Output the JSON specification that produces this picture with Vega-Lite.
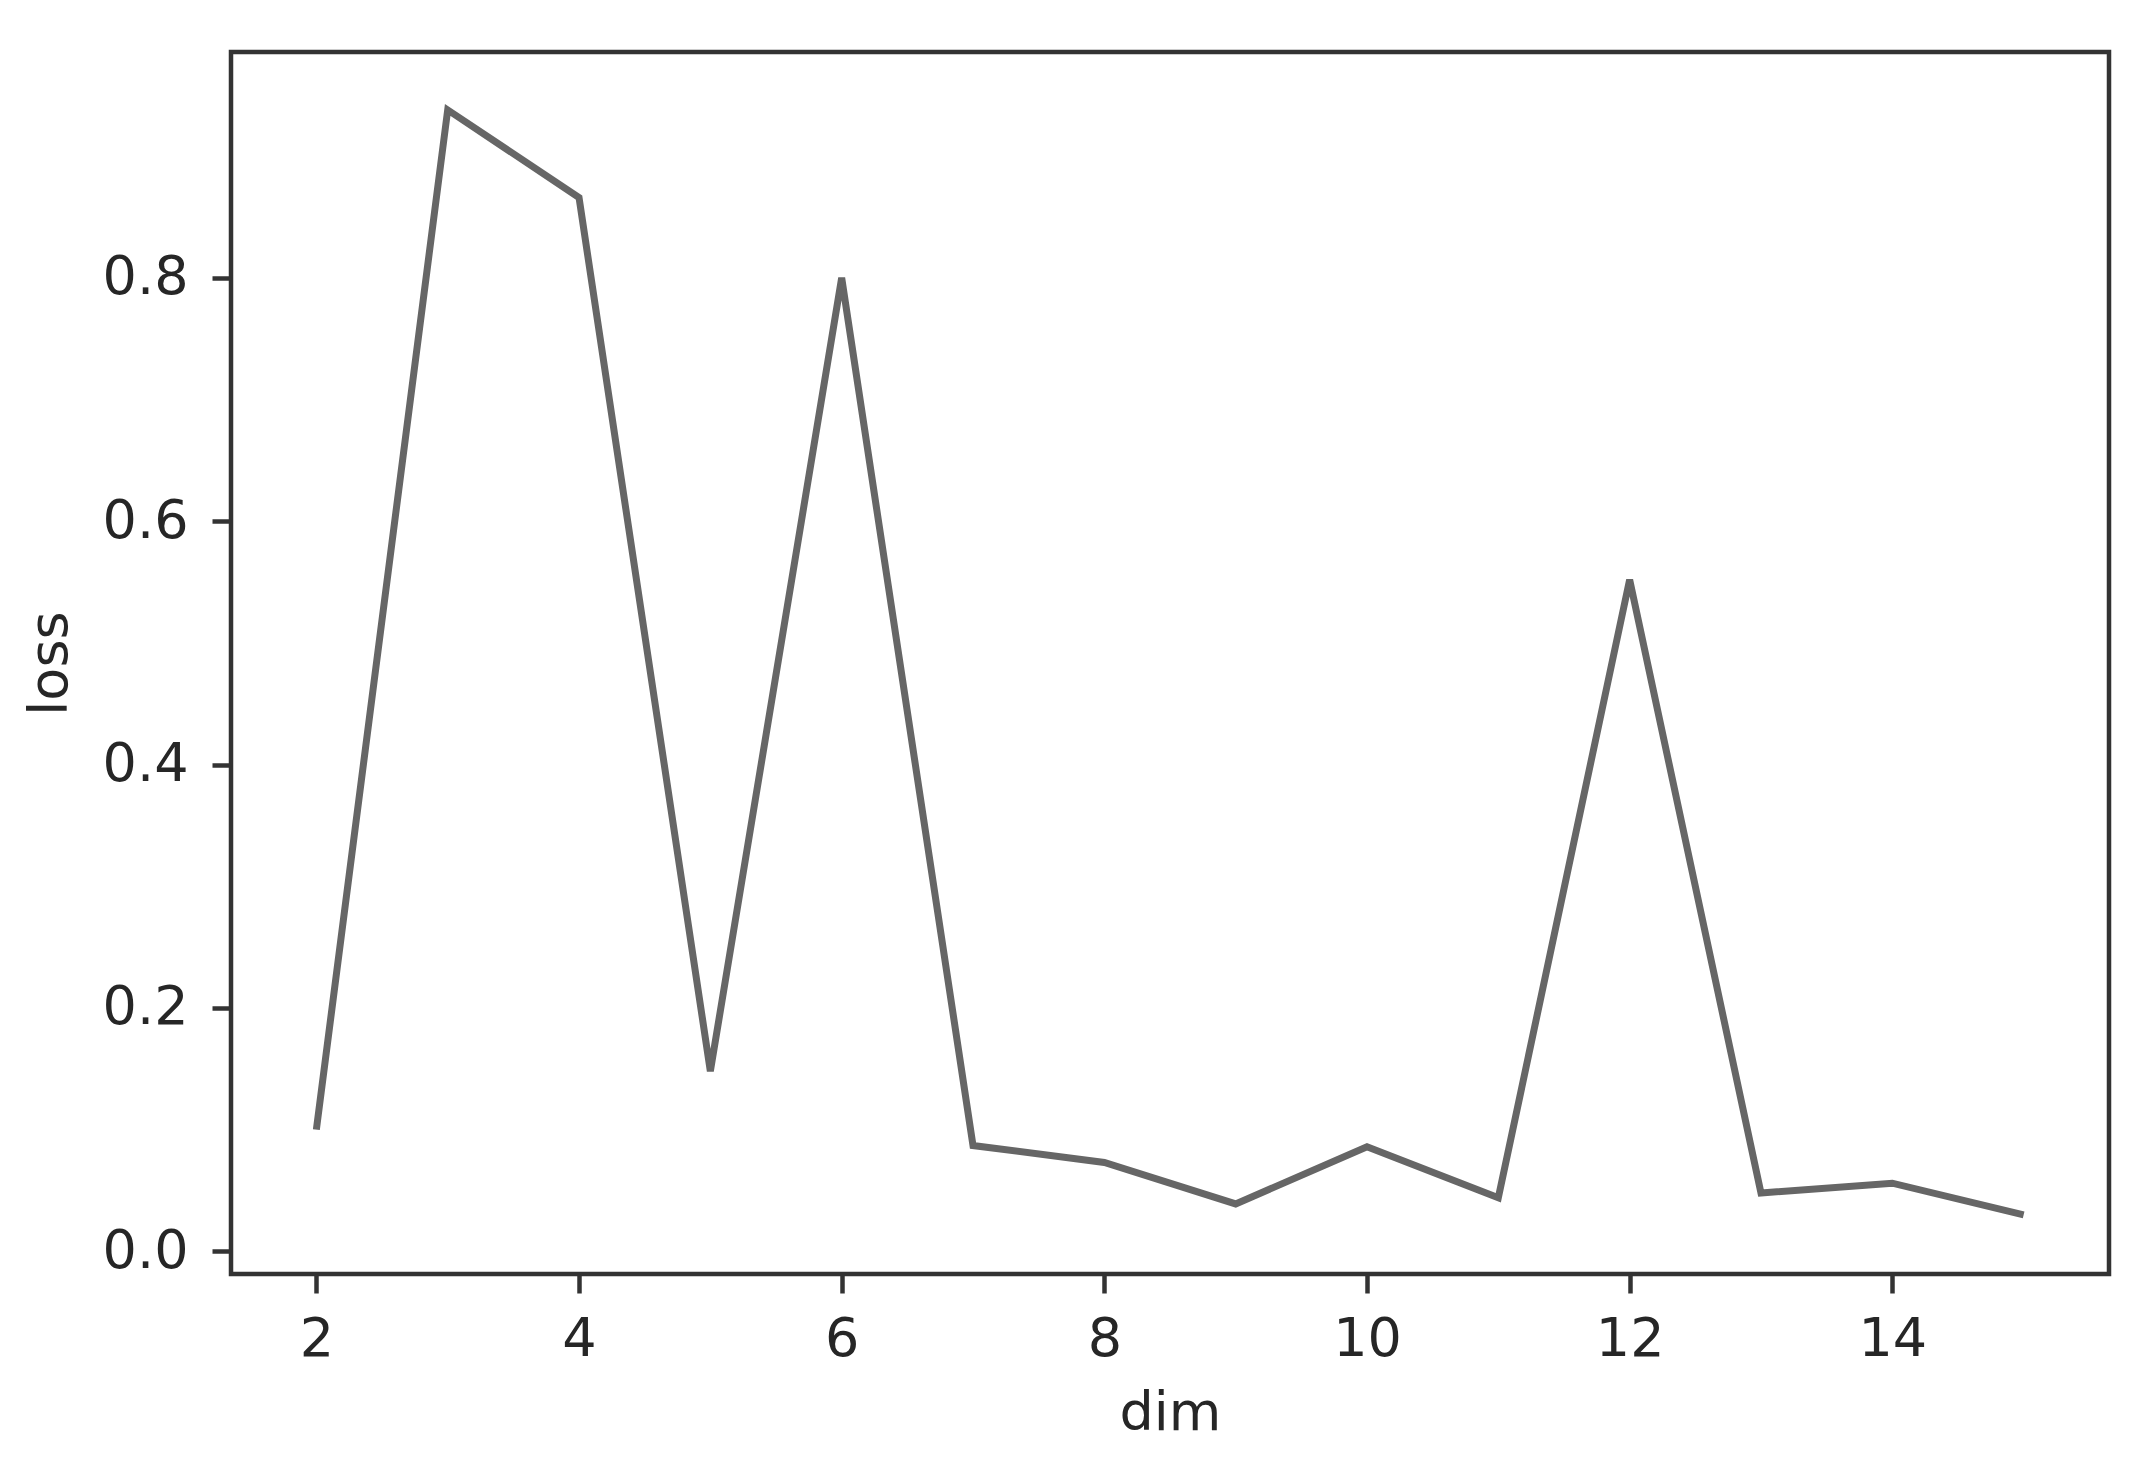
{
  "$schema": "https://vega.github.io/schema/vega-lite/v6.json",
  "autosize": "none",
  "padding": {"left": 231, "top": 52, "right": 40, "bottom": 196},
  "width": 1878,
  "height": 1222,
  "background": "white",
  "config": {
    "view": {"stroke": "#333333", "strokeWidth": 4.5},
    "font": "DejaVu Sans",
    "axis": {
      "domain": false,
      "grid": false,
      "tickColor": "#333333",
      "tickWidth": 4.5,
      "tickSize": 19,
      "labelFont": "DejaVu Sans",
      "labelFontSize": 54,
      "labelColor": "#262626",
      "titleFont": "DejaVu Sans",
      "titleFontSize": 54,
      "titleFontWeight": "normal",
      "titleColor": "#262626"
    }
  },
  "data": {
    "values": [
      {"dim": 2, "loss": 0.100},
      {"dim": 3, "loss": 0.938},
      {"dim": 4, "loss": 0.866},
      {"dim": 5, "loss": 0.148},
      {"dim": 6, "loss": 0.800},
      {"dim": 7, "loss": 0.087},
      {"dim": 8, "loss": 0.073},
      {"dim": 9, "loss": 0.039},
      {"dim": 10, "loss": 0.086},
      {"dim": 11, "loss": 0.044},
      {"dim": 12, "loss": 0.552},
      {"dim": 13, "loss": 0.048},
      {"dim": 14, "loss": 0.056},
      {"dim": 15, "loss": 0.030}
    ]
  },
  "mark": {"type": "line", "color": "#666666", "strokeWidth": 7},
  "encoding": {
    "x": {
      "field": "dim",
      "type": "quantitative",
      "scale": {"domain": [1.35, 15.65], "nice": false, "zero": false},
      "axis": {"values": [2, 4, 6, 8, 10, 12, 14], "labelPadding": 19, "titlePadding": 20, "labelFlush": false}
    },
    "y": {
      "field": "loss",
      "type": "quantitative",
      "scale": {"domain": [-0.0186, 0.9856], "nice": false, "zero": false},
      "axis": {"values": [0, 0.2, 0.4, 0.6, 0.8], "format": ".1f", "labelPadding": 24, "titlePadding": 25, "labelFlush": false}
    }
  }
}
